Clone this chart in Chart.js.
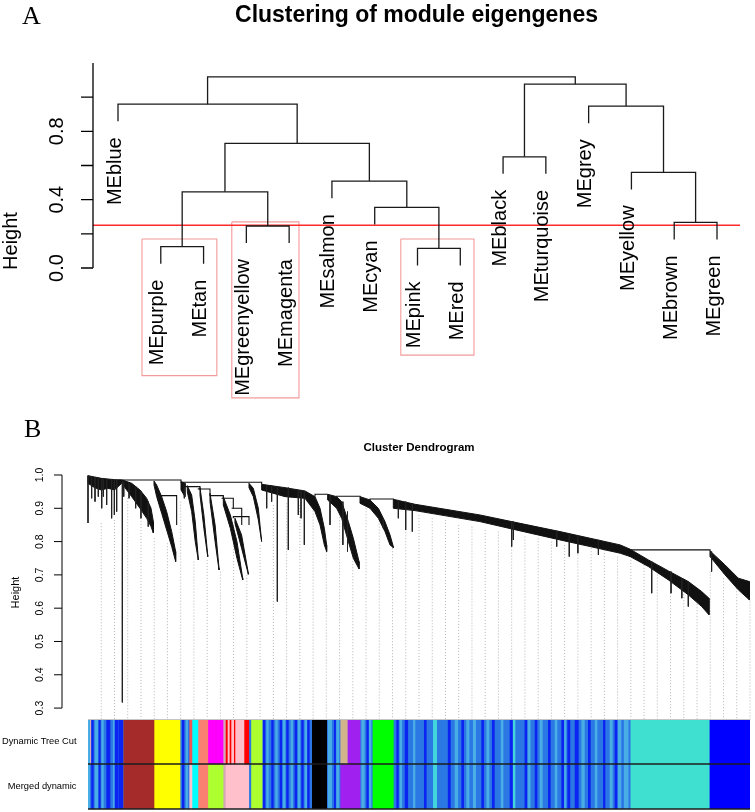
<!DOCTYPE html>
<html>
<head>
<meta charset="utf-8">
<script src="https://cdn.jsdelivr.net/npm/chart.js@4.4.1/dist/chart.umd.min.js"></script>
<style>
  body { margin: 0; background: #fff; width: 755px; height: 812px; overflow: hidden; position: relative; }
  canvas { position: absolute; left: 0; }
</style>
</head>
<body>
<canvas id="grafA" width="755" height="410" style="top:0"></canvas>
<canvas id="grafB" width="755" height="320" style="top:400px"></canvas>
<canvas id="grafC" width="755" height="93" style="top:719px"></canvas>
<script>
// ---- panel A: module eigengene tree ----
const tituloA = 'Clustering of module eigengenes';
const leafNames = ['MEblue', 'MEpurple', 'MEtan', 'MEgreenyellow', 'MEmagenta', 'MEsalmon', 'MEcyan',
  'MEpink', 'MEred', 'MEblack', 'MEturquoise', 'MEgrey', 'MEyellow', 'MEbrown', 'MEgreen'];
// hclust style merges: negative = leaf, positive = earlier merge
const mergePairs = [[-2, -3], [-8, -9], [-4, -5], [-14, -15], [-10, -11], [-7, 2], [1, 3],
  [-6, 6], [-13, 4], [7, 8], [-12, 9], [-1, 10], [5, 11], [12, 13]];
const mergeHeights = [0.125, 0.115, 0.246, 0.267, 0.651, 0.355, 0.446,
  0.509, 0.56, 0.729, 0.947, 0.959, 1.076, 1.119];
const cutHeight = 0.25;
const heightTicksA = [0, 0.2, 0.4, 0.6, 0.8, 1.0];
const heightLabelsA = ['0.0', '', '0.4', '', '0.8', ''];
const boxesA = [[1.56, 3.31, 0.17, -0.63], [3.66, 5.23, 0.27, -0.76], [7.61, 9.32, 0.17, -0.51]];

// ---- panel B: gene tree ----
const tituloB = 'Cluster Dendrogram';
const heightTicksB = [0.3, 0.4, 0.5, 0.6, 0.7, 0.8, 0.9, 1.0];
const bandX = [
  [0, 10, 20, 30, 40, 51],
  [52, 66, 78.5, 88.6, 95.2, 98.7],
  [99.7, 103.7, 111.3, 118.8, 126.4, 132.4],
  [140.5, 146.5],
  [150, 156.6, 162, 166.6],
  [169.2, 175, 180.8],
  [184.3, 192, 197.9],
  [204.4, 215, 225, 233.7],
  [222, 232, 242.2],
  [243.2, 249.7, 257.3, 262.3],
  [262.3, 297.6, 327.8, 342.9, 350.5, 357, 360.5],
  [362, 375.6, 383.2, 393.3, 400.8, 409.4],
  [410.9, 426, 438.6, 448.6, 456.2, 461.2],
  [461.2, 494, 592, 640, 713, 758.6, 804, 819],
  [819, 846.5, 876.7, 906.8, 927, 938],
  [939.6, 962.3, 982.4, 999]
];
const bandTop = [
  [0.998, 0.994, 0.99, 0.988, 0.986, 0.985],
  [0.985, 0.975, 0.955, 0.93, 0.9, 0.86],
  [0.982, 0.97, 0.935, 0.89, 0.83, 0.77],
  [0.98, 0.975],
  [0.968, 0.94, 0.86, 0.75],
  [0.962, 0.88, 0.76],
  [0.945, 0.85, 0.72],
  [0.935, 0.88, 0.8, 0.69],
  [0.87, 0.82, 0.705],
  [0.975, 0.96, 0.9, 0.8],
  [0.972, 0.962, 0.952, 0.935, 0.9, 0.84, 0.79],
  [0.942, 0.935, 0.92, 0.86, 0.81, 0.74],
  [0.935, 0.925, 0.9, 0.86, 0.82, 0.785],
  [0.927, 0.912, 0.88, 0.86, 0.83, 0.81, 0.79, 0.777],
  [0.777, 0.745, 0.712, 0.68, 0.65, 0.63],
  [0.772, 0.73, 0.69, 0.68]
];
const bandLow = [
  [0.975, 0.962, 0.955, 0.96, 0.955, 0.975],
  [0.972, 0.935, 0.9, 0.87, 0.845, 0.826],
  [0.97, 0.935, 0.885, 0.835, 0.785, 0.74],
  [0.955, 0.935],
  [0.95, 0.89, 0.8, 0.745],
  [0.94, 0.84, 0.755],
  [0.92, 0.8, 0.715],
  [0.91, 0.84, 0.75, 0.685],
  [0.855, 0.78, 0.702],
  [0.962, 0.935, 0.865, 0.8],
  [0.955, 0.935, 0.93, 0.89, 0.85, 0.79, 0.77],
  [0.925, 0.9, 0.87, 0.8, 0.75, 0.718],
  [0.915, 0.9, 0.87, 0.83, 0.79, 0.782],
  [0.9, 0.893, 0.86, 0.838, 0.805, 0.785, 0.765, 0.755],
  [0.755, 0.725, 0.685, 0.64, 0.605, 0.58],
  [0.755, 0.7, 0.655, 0.625]
];
// [left x, right x, height, left drop, right drop]
const joinsB = [
  [46, 140.5, 0.985, 0.985, 0.98],
  [140.5, 262.3, 0.978, 0.98, 0.972],
  [342.9, 362, 0.942, 0.935, 0.942],
  [375.6, 410.9, 0.936, 0.935, 0.935],
  [426, 461.2, 0.928, 0.925, 0.927],
  [819, 939.6, 0.775, 0.777, 0.772],
  [111.3, 133.9, 0.938, 0.935, 0.85],
  [146.5, 169.2, 0.965, 0.975, 0.955],
  [166.6, 184.3, 0.958, 0.96, 0.945],
  [184.3, 204.4, 0.938, 0.945, 0.93],
  [201.9, 219.5, 0.93, 0.93, 0.9],
  [217, 232.2, 0.9, 0.9, 0.85],
  [219.5, 243.2, 0.875, 0.87, 0.85]
];
// [x, top, bottom]
const spikesB = [
  [0, 0.998, 0.856], [5.5, 0.995, 0.93], [10.6, 0.994, 0.92], [15.6, 0.992, 0.935], [20.7, 0.99, 0.9],
  [23.2, 0.99, 0.935], [28.2, 0.988, 0.91], [35.7, 0.987, 0.87], [39.8, 0.986, 0.88], [43.3, 0.986, 0.89],
  [51.9, 0.985, 0.317], [54, 0.98, 0.935], [62, 0.975, 0.93], [72, 0.965, 0.9], [80, 0.952, 0.87],
  [91, 0.92, 0.845], [145.5, 0.975, 0.93],
  [269.9, 0.97, 0.9], [277.4, 0.968, 0.92], [286, 0.965, 0.62], [302.6, 0.962, 0.775],
  [317.7, 0.955, 0.88], [321.8, 0.955, 0.87], [326.8, 0.952, 0.79],
  [365.6, 0.94, 0.85], [385, 0.92, 0.79], [392, 0.89, 0.77], [446.1, 0.87, 0.84],
  [468.8, 0.925, 0.87], [479.9, 0.92, 0.835], [489.9, 0.915, 0.83],
  [640, 0.86, 0.785], [642.5, 0.86, 0.805], [708, 0.832, 0.785], [727, 0.825, 0.755],
  [740, 0.818, 0.765], [771, 0.805, 0.76],
  [851.5, 0.74, 0.645], [880.7, 0.71, 0.645], [897, 0.69, 0.63], [906.8, 0.68, 0.605], [942, 0.77, 0.71]
];
const guideStep = 20;
const guideTop = [0.855, 0.865, 0.93, 0.88, 0.81, 0.795, 0.92, 0.74, 0.745, 0.71, 0.85, 0.7, 0.79,
  0.91, 0.915, 0.91, 0.92, 0.77, 0.9, 0.75, 0.9, 0.89, 0.78, 0.9, 0.88, 0.87, 0.865, 0.85, 0.845,
  0.835, 0.83, 0.785, 0.815, 0.81, 0.8, 0.79, 0.77, 0.78, 0.775, 0.755, 0.745, 0.73, 0.71, 0.645,
  0.66, 0.63, 0.71, 0.69, 0.66, 0.62];

// ---- colour rows ----
const rowNames = ['Dynamic Tree Cut', 'Merged dynamic'];
const dynamicSegs = [['mixed', 0, 2.5], ['greypink', 2.5, 4.5], ['mixed', 4.5, 53], ['brown', 53, 99.7],
  ['yellow', 99.7, 139], ['mixed', 139, 152.6], ['redmix', 152.6, 157], ['cyan', 157, 166],
  ['salmon', 166, 181], ['magenta', 181, 204], ['greypink', 204, 207.5], ['red', 207.5, 210.5],
  ['pink', 210.5, 213.5], ['red', 213.5, 216], ['pink', 216, 220], ['red', 220, 222],
  ['pink', 222, 235.6], ['red', 235.6, 242.8], ['mixed', 242.8, 246], ['greenyellow', 246, 263],
  ['mixed', 263, 337.9], ['black', 337.9, 360.5], ['mixed', 360.5, 380.7], ['tan', 380.7, 391.7],
  ['purple', 391.7, 410.9], ['mixed', 410.9, 429.5], ['green', 429.5, 461.2], ['mixed', 461.2, 819],
  ['turquoise', 819, 938.5], ['blue', 938.5, 1000]];
const mergedSegs = [['mixed', 0, 53], ['brown', 53, 99.7], ['yellow', 99.7, 139], ['mixed', 139, 152.6],
  ['pink', 152.6, 157], ['cyan', 157, 166], ['salmon', 166, 181], ['greenyellow', 181, 204],
  ['greypink', 204, 207.5], ['pink', 207.5, 242.8], ['mixed', 242.8, 246], ['greenyellow', 246, 263],
  ['mixed', 263, 337.9], ['black', 337.9, 360.5], ['mixed', 360.5, 380.7], ['purple', 380.7, 410.9],
  ['mixed', 410.9, 429.5], ['green', 429.5, 461.2], ['mixed', 461.2, 819], ['turquoise', 819, 938.5],
  ['blue', 938.5, 1000]];
const darkStripes = [[5.5, 8], [16.6, 18.6], [28.2, 33.2], [40.8, 45.8], [47.3, 52.4], [142.5, 145],
  [264.8, 267.4], [277.4, 279.9], [290, 292.5], [300, 302.6], [312.6, 315.2], [322.7, 325.2], [331.8, 334.3],
  [372, 374], [421, 423.5], [466.3, 468.8], [478.9, 483], [508, 511], [544, 547.4], [564.5, 567.5],
  [594.7, 597.7], [610.8, 613.8], [637.5, 641], [660, 662.7], [675.3, 678.3], [695.4, 698.4],
  [715.5, 718.6], [724.6, 728], [735.7, 740.7], [755.8, 758.9], [778.5, 781], [796, 799]];
const lightStripes = [[0, 2.5], [10.6, 14.6], [20.7, 23.2], [38.3, 40.8], [148, 150.5],
  [269.9, 272.4], [283.5, 286], [295, 297.6], [306.6, 309.1], [317.7, 320.2], [327.8, 330.3],
  [363, 368], [375.6, 379], [413.4, 417.4], [425, 427.5], [471.3, 473.8], [491.5, 494],
  [554.4, 558.5], [572, 575.6], [582, 585.6], [602.3, 605.8], [624, 627], [665, 668], [682.8, 686.3],
  [705.5, 708.5], [719.6, 722], [745.8, 749.8], [766, 769], [788.6, 792], [801, 805], [810, 816]];
const turqStripes = [[521.7, 526.7], [642.5, 645]];

const moduleColors = {
  mixed: '#2b78e4', brown: '#A52A2A', yellow: '#FFFF00', cyan: '#00FFFF', salmon: '#FA8072',
  magenta: '#FF00FF', red: '#FF0000', pink: '#FFC0CB', greenyellow: '#ADFF2F', black: '#000000',
  tan: '#D2B48C', purple: '#A020F0', green: '#00FF00', turquoise: '#40E0D0', blue: '#0000FF',
  greypink: '#d4aab4', redmix: '#f05656'
};

const SANS = "'Liberation Sans', Arial, sans-serif";
const SERIF = "'Liberation Serif', 'Times New Roman', serif";
const INK = '#111111';

function linea(points, color, width, extra) {
  return Object.assign({
    data: points, borderColor: color, borderWidth: width, pointRadius: 0, pointHoverRadius: 0,
    fill: false, tension: 0, clip: false, order: 0
  }, extra || {});
}

function vtext(ctx, txt, px, py, align) {
  ctx.save();
  ctx.translate(px, py);
  ctx.rotate(-Math.PI / 2);
  ctx.textAlign = align;
  ctx.textBaseline = 'middle';
  ctx.fillText(txt, 0, 0);
  ctx.restore();
}

// ---------- chart A ----------
const hang = 0.1;
const leafX = leafNames.map((n, i) => i + 1);
const leafBottom = [];
const nodeX = [];
const dsA = [];
mergePairs.forEach(([a, b], i) => {
  const h = mergeHeights[i];
  const xa = a < 0 ? leafX[-a - 1] : nodeX[a - 1];
  const xb = b < 0 ? leafX[-b - 1] : nodeX[b - 1];
  const ba = a < 0 ? h - hang : mergeHeights[a - 1];
  const bb = b < 0 ? h - hang : mergeHeights[b - 1];
  if (a < 0) leafBottom[-a - 1] = ba;
  if (b < 0) leafBottom[-b - 1] = bb;
  nodeX[i] = (xa + xb) / 2;
  dsA.push(linea([{x: xa, y: ba}, {x: xa, y: h}, {x: xb, y: h}, {x: xb, y: bb}], '#1a1a1a', 1.3));
});

const xMinA = 0.4157, xMaxA = 15.5376;
dsA.push(linea([{x: xMinA, y: cutHeight}, {x: xMaxA, y: cutHeight}], '#ff2a2a', 1.5));
boxesA.forEach(([x0, x1, y0, y1]) => {
  dsA.push(linea([{x: x0, y: y0}, {x: x1, y: y0}, {x: x1, y: y1}, {x: x0, y: y1}, {x: x0, y: y0}],
    '#f49a9a', 1.1));
});

const textoA = {
  id: 'textoA',
  afterDraw(chart) {
    const {ctx, chartArea: area, scales: {x, y}} = chart;
    ctx.save();
    ctx.fillStyle = '#000';
    ctx.font = `26px ${SERIF}`;
    ctx.textAlign = 'left';
    ctx.textBaseline = 'alphabetic';
    ctx.fillText('A', 22, 24);
    ctx.font = `bold 23px ${SANS}`;
    ctx.textAlign = 'center';
    ctx.fillText(tituloA, (area.left + area.right) / 2, 22);

    ctx.strokeStyle = '#000';
    ctx.lineWidth = 1.3;
    ctx.beginPath();
    ctx.moveTo(area.left, y.getPixelForValue(0));
    ctx.lineTo(area.left, area.top);
    heightTicksA.forEach(t => {
      const py = y.getPixelForValue(t);
      ctx.moveTo(area.left - 12, py);
      ctx.lineTo(area.left, py);
    });
    ctx.stroke();

    ctx.font = `20px ${SANS}`;
    heightTicksA.forEach((t, i) => {
      if (heightLabelsA[i]) vtext(ctx, heightLabelsA[i], area.left - 35.5, y.getPixelForValue(t), 'center');
    });
    vtext(ctx, 'Height', 11, 241, 'center');
    leafNames.forEach((n, i) => {
      vtext(ctx, n, x.getPixelForValue(leafX[i]) - 3, y.getPixelForValue(leafBottom[i]) + 16, 'right');
    });
    ctx.restore();
  }
};

new Chart(document.getElementById('grafA'), {
  type: 'line',
  data: {datasets: dsA},
  options: {
    responsive: false, animation: false, events: [], devicePixelRatio: 1,
    layout: {padding: {left: 93, right: 15, top: 63, bottom: 142}},
    scales: {
      x: {type: 'linear', min: xMinA, max: xMaxA, display: false},
      y: {type: 'linear', min: 0, max: 1.2, display: false}
    },
    plugins: {legend: {display: false}, tooltip: {enabled: false}}
  },
  plugins: [textoA]
});

// ---------- chart B ----------
const yMinB = 0.2642, yMaxB = 1.03;
const dsB = [];
guideTop.forEach((top, k) => {
  const gx = (k + 1) * guideStep;
  dsB.push(linea([{x: gx, y: top}, {x: gx, y: yMinB}], '#b4b4b4', 1, {borderDash: [1, 2], order: 3}));
});
bandX.forEach((xs, i) => {
  const pts = xs.map((v, j) => ({x: v, y: bandTop[i][j]}))
    .concat(xs.map((v, j) => ({x: v, y: bandLow[i][j]})).reverse());
  pts.push(pts[0]);
  dsB.push(linea(pts, INK, 1, {fill: 'shape', backgroundColor: INK, order: 1}));
});
joinsB.forEach(([xl, xr, h, bl, br]) => {
  dsB.push(linea([{x: xl, y: bl}, {x: xl, y: h}, {x: xr, y: h}, {x: xr, y: br}], INK, 1.1));
});
spikesB.forEach(([sx, top, bot]) => {
  dsB.push(linea([{x: sx, y: top}, {x: sx, y: bot}], '#222', 1));
});

const textoB = {
  id: 'textoB',
  afterDraw(chart) {
    const {ctx, chartArea: area, scales: {y}} = chart;
    ctx.save();
    ctx.fillStyle = '#000';
    ctx.font = `26px ${SERIF}`;
    ctx.textAlign = 'left';
    ctx.textBaseline = 'alphabetic';
    ctx.fillText('B', 24, 37);
    ctx.font = `bold 11.5px ${SANS}`;
    ctx.textAlign = 'center';
    ctx.fillText(tituloB, (area.left + area.right) / 2, 51);

    const ax = 62;
    ctx.strokeStyle = '#000';
    ctx.lineWidth = 1;
    ctx.beginPath();
    ctx.moveTo(ax, y.getPixelForValue(heightTicksB[0]));
    ctx.lineTo(ax, y.getPixelForValue(heightTicksB[heightTicksB.length - 1]));
    heightTicksB.forEach(t => {
      const py = y.getPixelForValue(t);
      ctx.moveTo(ax - 8, py);
      ctx.lineTo(ax, py);
    });
    ctx.stroke();
    ctx.font = `10.5px ${SANS}`;
    heightTicksB.forEach(t => vtext(ctx, t.toFixed(1), ax - 22, y.getPixelForValue(t), 'center'));
    ctx.font = `11px ${SANS}`;
    vtext(ctx, 'Height', 15.5, 192.5, 'center');
    ctx.restore();
  }
};

new Chart(document.getElementById('grafB'), {
  type: 'line',
  data: {datasets: dsB},
  options: {
    responsive: false, animation: false, events: [], devicePixelRatio: 1,
    layout: {padding: {left: 88, right: 5, top: 65, bottom: 0}},
    scales: {
      x: {type: 'linear', min: 0, max: 1000, display: false},
      y: {type: 'linear', min: yMinB, max: yMaxB, display: false}
    },
    plugins: {legend: {display: false}, tooltip: {enabled: false}}
  },
  plugins: [textoB]
});

// ---------- colour rows ----------
function barra(data, color, order) {
  return {data, backgroundColor: color, order, barPercentage: 1, categoryPercentage: 1,
    grouped: false, borderWidth: 0};
}
const dsC = [];
dynamicSegs.forEach(([m, s, e]) => dsC.push(barra([[s, e], null], moduleColors[m], 2)));
mergedSegs.forEach(([m, s, e]) => dsC.push(barra([null, [s, e]], moduleColors[m], 2)));
darkStripes.forEach(([s, e]) => dsC.push(barra([[s, e], [s, e]], '#0b24f2', 1)));
lightStripes.forEach(([s, e]) => dsC.push(barra([[s, e], [s, e]], '#4aaee6', 1)));
turqStripes.forEach(([s, e]) => dsC.push(barra([[s, e], [s, e]], '#42d6dc', 1)));

// row borders: light line on top, dark between rows and at the bottom
const bordesC = {
  id: 'bordesC',
  afterDatasetsDraw(chart) {
    const {ctx, chartArea: area} = chart;
    const mid = (area.top + area.bottom) / 2;
    ctx.save();
    ctx.lineWidth = 1;
    ctx.strokeStyle = '#c4c4c4';
    ctx.beginPath();
    ctx.moveTo(area.left, area.top + 0.5);
    ctx.lineTo(area.right, area.top + 0.5);
    ctx.stroke();
    ctx.lineWidth = 1.5;
    ctx.strokeStyle = '#1c1c1c';
    ctx.beginPath();
    ctx.moveTo(area.left, mid);
    ctx.lineTo(area.right, mid);
    ctx.moveTo(area.left, area.bottom);
    ctx.lineTo(area.right, area.bottom);
    ctx.stroke();
    ctx.restore();
  }
};

new Chart(document.getElementById('grafC'), {
  type: 'bar',
  data: {labels: rowNames, datasets: dsC},
  options: {
    indexAxis: 'y',
    responsive: false, animation: false, events: [], devicePixelRatio: 1,
    layout: {padding: {left: 0, right: 5, top: 0, bottom: 3}, autoPadding: false},
    scales: {
      x: {type: 'linear', min: 0, max: 1000, display: false},
      y: {
        border: {display: false},
        grid: {display: false, drawTicks: false},
        ticks: {color: '#000', padding: 11.5, font: {family: SANS, size: 9.3}},
        afterFit: s => { s.width = 88; s.paddingTop = 0; s.paddingBottom = 0; }
      }
    },
    plugins: {legend: {display: false}, tooltip: {enabled: false}}
  },
  plugins: [bordesC]
});
</script>
</body>
</html>
